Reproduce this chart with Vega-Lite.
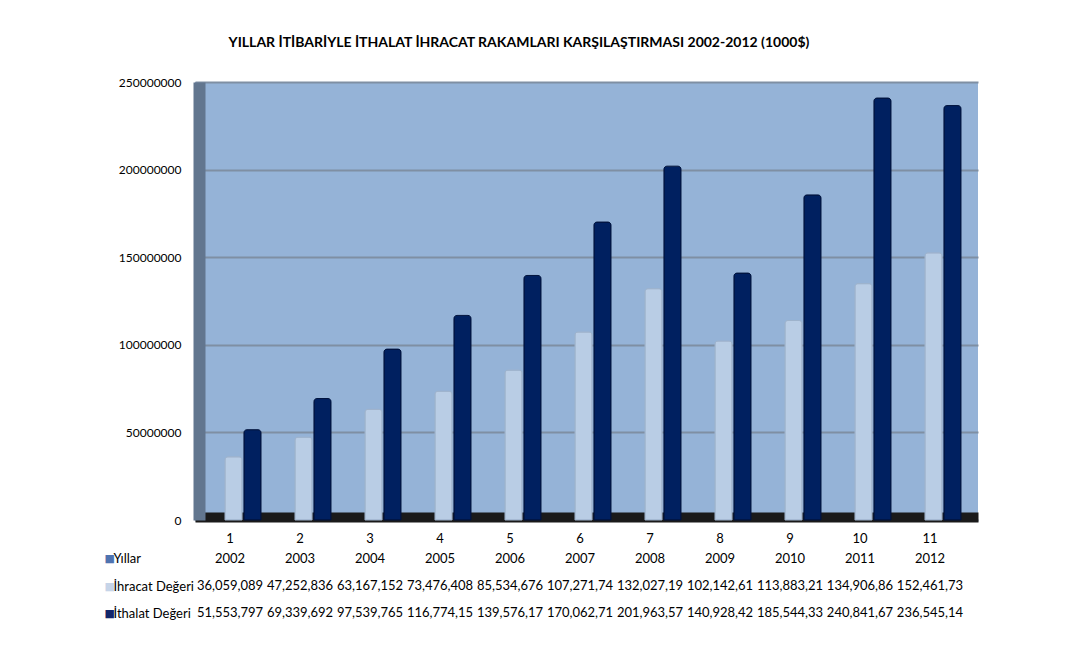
{
  "$schema": "https://vega.github.io/schema/vega-lite/v6.json",
  "padding": {"left": 104, "top": 36, "right": 5, "bottom": 5},
  "background": "white",
  "config": {"font": "Lato", "view": {"stroke": null}, "axis": {"labelFont": "Lato", "labelColor": "#000000"}},
  "title": {"text": "YILLAR İTİBARİYLE İTHALAT İHRACAT RAKAMLARI  KARŞILAŞTIRMASI 2002-2012  (1000$)", "fontSize": 14, "fontWeight": "bold", "font": "Lato", "anchor": "middle", "frame": "bounds", "offset": 26, "dx": -22, "color": "#000000"},
  "data": {"values": [
    {"no": "1", "yil": "2002", "ihracat": 36059089, "ithalat": 51553797, "ihracat_etiket": "36,059,089", "ithalat_etiket": "51,553,797"},
    {"no": "2", "yil": "2003", "ihracat": 47252836, "ithalat": 69339692, "ihracat_etiket": "47,252,836", "ithalat_etiket": "69,339,692"},
    {"no": "3", "yil": "2004", "ihracat": 63167152, "ithalat": 97539765, "ihracat_etiket": "63,167,152", "ithalat_etiket": "97,539,765"},
    {"no": "4", "yil": "2005", "ihracat": 73476408, "ithalat": 116774150, "ihracat_etiket": "73,476,408", "ithalat_etiket": "116,774,15"},
    {"no": "5", "yil": "2006", "ihracat": 85534676, "ithalat": 139576170, "ihracat_etiket": "85,534,676", "ithalat_etiket": "139,576,17"},
    {"no": "6", "yil": "2007", "ihracat": 107271740, "ithalat": 170062710, "ihracat_etiket": "107,271,74", "ithalat_etiket": "170,062,71"},
    {"no": "7", "yil": "2008", "ihracat": 132027190, "ithalat": 201963570, "ihracat_etiket": "132,027,19", "ithalat_etiket": "201,963,57"},
    {"no": "8", "yil": "2009", "ihracat": 102142610, "ithalat": 140928420, "ihracat_etiket": "102,142,61", "ithalat_etiket": "140,928,42"},
    {"no": "9", "yil": "2010", "ihracat": 113883210, "ithalat": 185544330, "ihracat_etiket": "113,883,21", "ithalat_etiket": "185,544,33"},
    {"no": "10", "yil": "2011", "ihracat": 134906860, "ithalat": 240841670, "ihracat_etiket": "134,906,86", "ithalat_etiket": "240,841,67"},
    {"no": "11", "yil": "2012", "ihracat": 152461730, "ithalat": 236545140, "ihracat_etiket": "152,461,73", "ithalat_etiket": "236,545,14"}
  ]},
  "spacing": 0,
  "vconcat": [
    {
      "width": 783,
      "height": 438,
      "view": {"fill": "#95b3d7", "stroke": null},
      "transform": [{"fold": ["ihracat", "ithalat"], "as": ["seri", "deger"]}],
      "mark": {"type": "bar", "cornerRadiusTopLeft": 3, "cornerRadiusTopRight": 3, "strokeWidth": 1},
      "encoding": {
        "x": {"field": "no", "type": "ordinal", "sort": null,
              "scale": {"type": "band", "paddingInner": 0, "paddingOuter": 0.093, "align": 0},
              "axis": {"title": null, "labelAngle": 0, "labelFontSize": 13, "ticks": false, "domainColor": "#1a1a1a", "domainWidth": 10, "offset": -3, "labelPadding": 15, "grid": false}},
        "xOffset": {"field": "seri", "scale": {"range": [30, 66], "paddingInner": 0.1}},
        "y": {"field": "deger", "type": "quantitative",
              "scale": {"domain": [0, 250000000]},
              "axis": {"title": null, "values": [0, 50000000, 100000000, 150000000, 200000000, 250000000], "format": "d", "labelFontSize": 12, "ticks": false, "domainColor": "#62768f", "domainWidth": 12, "offset": -4, "labelPadding": 18, "gridColor": "#7f8fa3", "gridWidth": 2}},
        "color": {"field": "seri", "type": "nominal", "scale": {"domain": ["ihracat", "ithalat"], "range": ["#b9cde5", "#002060"]}, "legend": null},
        "stroke": {"field": "seri", "type": "nominal", "scale": {"domain": ["ihracat", "ithalat"], "range": ["#9fb3cc", "#00133d"]}, "legend": null}
      }
    },
    {
      "width": 783,
      "height": 82,
      "transform": [{"fold": ["yil", "ihracat_etiket", "ithalat_etiket"], "as": ["satir", "metin"]}],
      "layer": [
        {
          "mark": {"type": "text", "fontSize": 13, "font": "Lato", "color": "#000000"},
          "encoding": {
            "x": {"field": "no", "type": "ordinal", "sort": null, "scale": {"type": "band", "paddingInner": 0, "paddingOuter": 0.093, "align": 0}, "axis": null},
            "y": {"field": "satir", "type": "nominal", "sort": ["yil", "ihracat_etiket", "ithalat_etiket"],
                  "axis": {"orient": "left", "title": null, "domain": false, "ticks": false, "grid": false, "labelAlign": "left", "labelPadding": 82, "labelFontSize": 13,
                           "labelExpr": "datum.value == 'yil' ? 'Yıllar' : datum.value == 'ihracat_etiket' ? 'İhracat Değeri' : 'İthalat Değeri'"}},
            "text": {"field": "metin"}
          }
        },
        {
          "mark": {"type": "text", "opacity": 0},
          "encoding": {
            "y": {"field": "satir", "type": "nominal", "sort": ["yil", "ihracat_etiket", "ithalat_etiket"],
                  "axis": {"orient": "left", "title": null, "domain": false, "ticks": false, "grid": false, "labelAlign": "left", "labelPadding": 91, "labelFontSize": 11, "labelFont": "DejaVu Sans",
                           "labelExpr": "'■'",
                           "labelColor": {"condition": [{"test": "datum.value == 'yil'", "value": "#4f73b0"}, {"test": "datum.value == 'ihracat_etiket'", "value": "#c6d4e8"}], "value": "#14276b"}}},
            "text": {"value": ""}
          }
        }
      ],
      "resolve": {"scale": {"y": "independent"}}
    }
  ]
}
